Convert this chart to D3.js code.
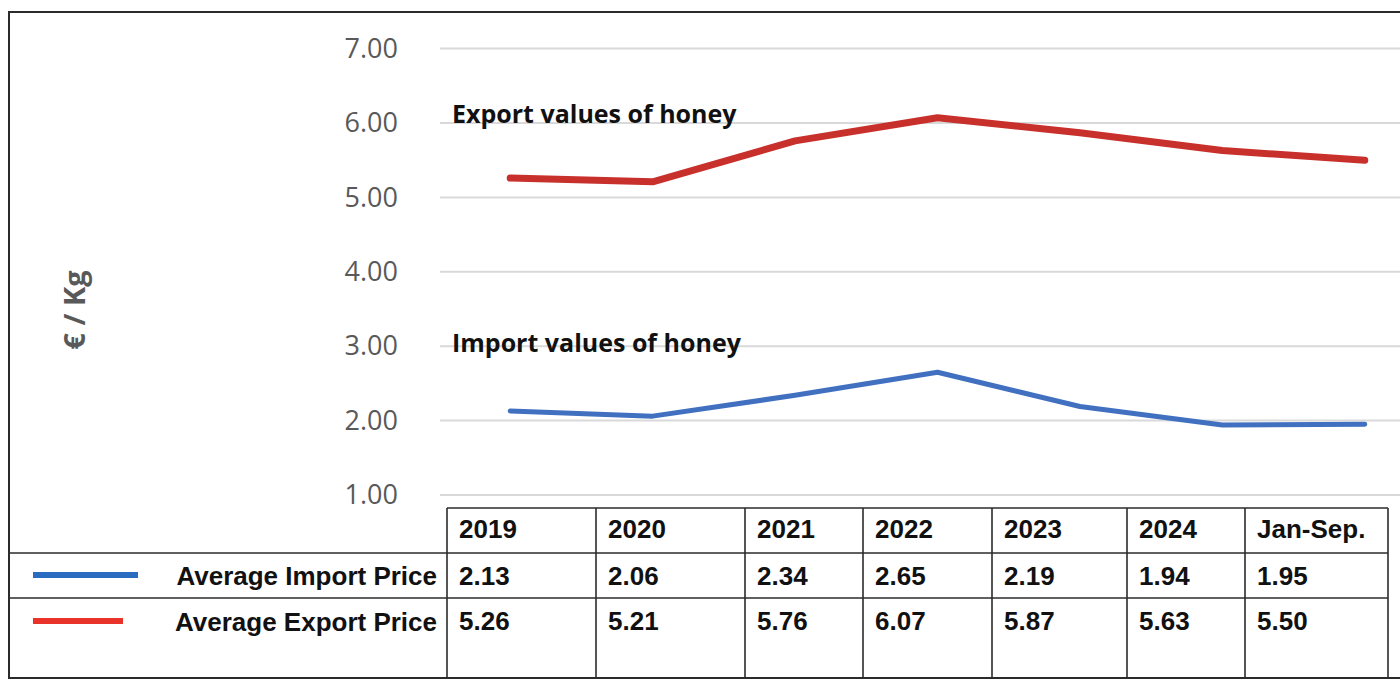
<!DOCTYPE html>
<html>
<head>
<meta charset="utf-8">
<script src="https://cdn.jsdelivr.net/npm/d3@7"></script>
<style>
  body { margin: 0; background: #fff; }
</style>
</head>
<body>
<div id="viz"></div>
<script>
var categories = ["2019", "2020", "2021", "2022", "2023", "2024", "Jan-Sep."];
var importPrice = [2.13, 2.06, 2.34, 2.65, 2.19, 1.94, 1.95];
var exportPrice = [5.26, 5.21, 5.76, 6.07, 5.87, 5.63, 5.50];
var yTicks = [1, 2, 3, 4, 5, 6, 7];
var seriesNames = ["Average Import Price", "Average Export Price"];
var annotations = ["Export values of honey", "Import values of honey"];

var W = 1400, H = 680;
var svg = d3.select("#viz").append("svg")
    .attr("width", W)
    .attr("height", H);

// outer frame
svg.append("rect")
    .attr("x", 9).attr("y", 12)
    .attr("width", W + 20).attr("height", 666)
    .style("fill", "none").style("stroke", "#2b2b2b").style("stroke-width", 2);

var x = d3.scaleBand().domain(categories).range([439, 1436]);
var y = d3.scaleLinear().domain([1, 7]).range([495, 48.6]);

// gridlines
svg.append("g").selectAll("line")
    .data(yTicks)
    .enter().append("line")
    .attr("x1", 440).attr("x2", W)
    .attr("y1", function(d){ return y(d); })
    .attr("y2", function(d){ return y(d); })
    .style("stroke", "#d9d9d9").style("stroke-width", 2);

// y axis labels
var yAxis = d3.axisLeft(y).tickValues(yTicks).tickFormat(d3.format(".2f")).tickSize(0).tickPadding(0);
var ga = svg.append("g").attr("transform", "translate(398,0)").call(yAxis);
ga.select(".domain").remove();
ga.selectAll("text")
    .style("font-family", "'Open Sans', sans-serif")
    .style("font-size", "27px")
    .style("fill", "#595959");

svg.append("text")
    .attr("transform", "translate(85,310) rotate(-90)")
    .attr("text-anchor", "middle")
    .style("font-family", "'Open Sans', sans-serif")
    .style("font-weight", "bold")
    .style("font-size", "29px")
    .style("fill", "#595959")
    .text("€ / Kg");

var line = d3.line()
    .x(function(d, i){ return x(categories[i]) + x.bandwidth() / 2; })
    .y(function(d){ return y(d); });

svg.append("path").datum(exportPrice)
    .attr("d", line)
    .style("fill", "none").style("stroke", "#c8302c")
    .style("stroke-width", 7).style("stroke-linecap", "round")
    .style("stroke-linejoin", "round");

svg.append("path").datum(importPrice)
    .attr("d", line)
    .style("fill", "none").style("stroke", "#4170c0")
    .style("stroke-width", 5).style("stroke-linecap", "round")
    .style("stroke-linejoin", "round");

svg.selectAll(".annot")
    .data(annotations)
    .enter().append("text")
    .attr("x", 452)
    .attr("y", function(d, i){ return i == 0 ? 123 : 352; })
    .style("font-family", "'Open Sans', sans-serif")
    .style("font-weight", "bold")
    .style("font-size", "25px")
    .style("fill", "#111")
    .text(function(d){ return d; });

// data table
var colEdges = [447, 596, 745, 863, 992, 1127, 1245, 1388];
var rowEdges = [508, 553, 598, 678];
var tbl = svg.append("g").style("stroke", "#2b2b2b").style("stroke-width", 1.6);
tbl.append("line").attr("x1", 447).attr("x2", 1388).attr("y1", rowEdges[0]).attr("y2", rowEdges[0]);
tbl.selectAll(".h").data(rowEdges.slice(1)).enter().append("line")
    .attr("x1", 10).attr("x2", 1388)
    .attr("y1", function(d){ return d; }).attr("y2", function(d){ return d; });
tbl.selectAll(".v").data(colEdges).enter().append("line")
    .attr("x1", function(d){ return d; }).attr("x2", function(d){ return d; })
    .attr("y1", rowEdges[0]).attr("y2", 678);

var tfont = "'Liberation Sans', Arial, sans-serif";
function cellText(txt, i, cy) {
    svg.append("text")
        .attr("x", colEdges[i] + 12).attr("y", cy)
        .attr("dy", "0.35em")
        .style("font-family", tfont).style("font-weight", "bold")
        .style("font-size", "26px").style("fill", "#111")
        .attr("textLength", null)
        .text(txt);
}
categories.forEach(function(c, i){ cellText(c, i, 529); });
importPrice.forEach(function(v, i){ cellText(v.toFixed(2), i, 576); });
exportPrice.forEach(function(v, i){ cellText(v.toFixed(2), i, 621); });

// legend keys
var keyColors = ["#2a6cc0", "#e8322a"];
var keyEnds = [138, 123];
var keyY = [575, 621];
seriesNames.forEach(function(n, i){
    svg.append("line")
        .attr("x1", 33).attr("x2", keyEnds[i])
        .attr("y1", keyY[i]).attr("y2", keyY[i])
        .style("stroke", keyColors[i]).style("stroke-width", 6);
    svg.append("text")
        .attr("x", 437).attr("y", keyY[i] + 1)
        .attr("dy", "0.35em")
        .attr("text-anchor", "end")
        .style("font-family", tfont).style("font-weight", "bold")
        .style("font-size", "26px").style("fill", "#111")
        .text(n);
});
</script>
</body>
</html>
